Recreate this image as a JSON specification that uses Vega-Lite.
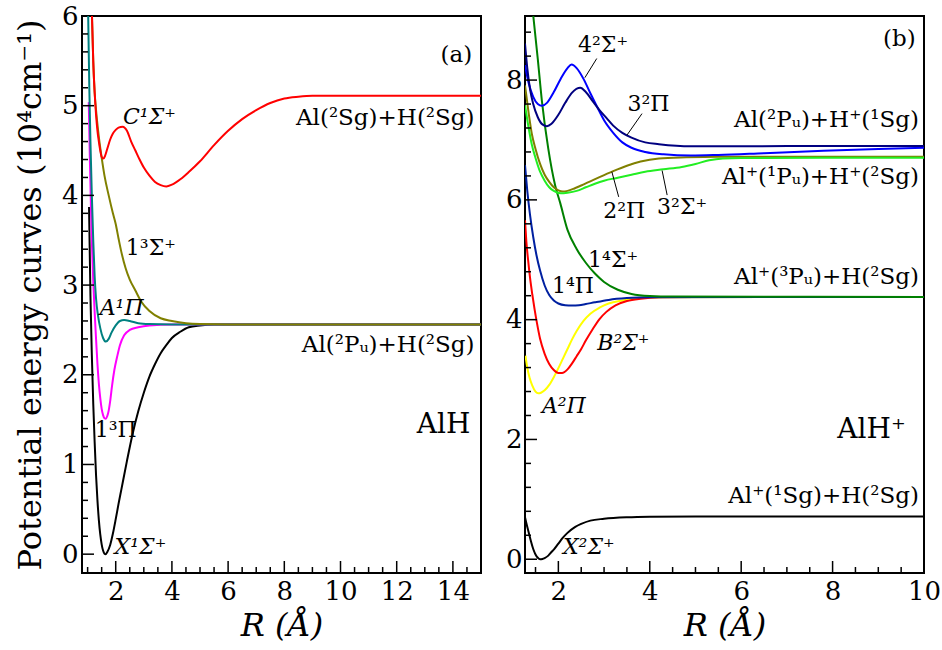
{
  "$schema": "https://vega.github.io/schema/vega-lite/v6.json",
  "background": "white",
  "padding": {"left": 13, "top": 2, "right": 0, "bottom": 0},
  "spacing": 22,
  "config": {
    "view": {"stroke": "black", "strokeWidth": 2},
    "font": "DejaVu Serif",
    "axis": {
      "grid": false,
      "ticks": false,
      "domain": false,
      "labelFont": "DejaVu Serif",
      "labelFontSize": 26,
      "labelColor": "black",
      "labelOverlap": false,
      "labelFlush": false,
      "labelBound": false,
      "titleFont": "DejaVu Serif",
      "titleFontSize": 32,
      "titleFontWeight": "normal",
      "titleColor": "black"
    },
    "text": {"font": "DejaVu Serif", "color": "black"}
  },
  "datasets": {
    "curvesA": [
      {"state":"X1S","R":1.05,"E":3.87},{"state":"X1S","R":1.1,"E":2.89},{"state":"X1S","R":1.15,"E":2.22},{"state":"X1S","R":1.2,"E":1.68},{"state":"X1S","R":1.25,"E":1.25},{"state":"X1S","R":1.3,"E":0.88},{"state":"X1S","R":1.35,"E":0.6},{"state":"X1S","R":1.4,"E":0.38},{"state":"X1S","R":1.45,"E":0.22},{"state":"X1S","R":1.5,"E":0.11},{"state":"X1S","R":1.55,"E":0.04},{"state":"X1S","R":1.6,"E":0.005},{"state":"X1S","R":1.64,"E":0.0},{"state":"X1S","R":1.7,"E":0.025},{"state":"X1S","R":1.8,"E":0.1},{"state":"X1S","R":1.9,"E":0.23},{"state":"X1S","R":2.0,"E":0.39},{"state":"X1S","R":2.1,"E":0.56},{"state":"X1S","R":2.2,"E":0.72},{"state":"X1S","R":2.4,"E":1.04},{"state":"X1S","R":2.6,"E":1.34},{"state":"X1S","R":2.8,"E":1.59},{"state":"X1S","R":3.0,"E":1.8},{"state":"X1S","R":3.2,"E":1.98},{"state":"X1S","R":3.4,"E":2.12},{"state":"X1S","R":3.6,"E":2.24},{"state":"X1S","R":3.8,"E":2.33},{"state":"X1S","R":4.0,"E":2.41},{"state":"X1S","R":4.3,"E":2.48},{"state":"X1S","R":4.6,"E":2.53},{"state":"X1S","R":5.0,"E":2.55},{"state":"X1S","R":5.5,"E":2.56},{"state":"X1S","R":6,"E":2.56},{"state":"X1S","R":8,"E":2.56},{"state":"X1S","R":10,"E":2.56},{"state":"X1S","R":12,"E":2.56},{"state":"X1S","R":15,"E":2.56},
      {"state":"13P","R":1.04,"E":5.04},{"state":"13P","R":1.08,"E":4.4},{"state":"13P","R":1.12,"E":3.85},{"state":"13P","R":1.16,"E":3.4},{"state":"13P","R":1.2,"E":3.05},{"state":"13P","R":1.25,"E":2.7},{"state":"13P","R":1.3,"E":2.4},{"state":"13P","R":1.35,"E":2.12},{"state":"13P","R":1.4,"E":1.9},{"state":"13P","R":1.45,"E":1.74},{"state":"13P","R":1.5,"E":1.62},{"state":"13P","R":1.55,"E":1.55},{"state":"13P","R":1.6,"E":1.515},{"state":"13P","R":1.65,"E":1.51},{"state":"13P","R":1.7,"E":1.54},{"state":"13P","R":1.75,"E":1.6},{"state":"13P","R":1.8,"E":1.7},{"state":"13P","R":1.87,"E":1.88},{"state":"13P","R":1.95,"E":2.05},{"state":"13P","R":2.05,"E":2.2},{"state":"13P","R":2.15,"E":2.33},{"state":"13P","R":2.3,"E":2.44},{"state":"13P","R":2.5,"E":2.5},{"state":"13P","R":2.8,"E":2.53},{"state":"13P","R":3.2,"E":2.55},{"state":"13P","R":4,"E":2.56},{"state":"13P","R":15,"E":2.56},
      {"state":"A1P","R":1.02,"E":6.0},{"state":"A1P","R":1.06,"E":5.2},{"state":"A1P","R":1.1,"E":4.6},{"state":"A1P","R":1.15,"E":4.0},{"state":"A1P","R":1.2,"E":3.5},{"state":"A1P","R":1.25,"E":3.1},{"state":"A1P","R":1.3,"E":2.85},{"state":"A1P","R":1.37,"E":2.66},{"state":"A1P","R":1.45,"E":2.52},{"state":"A1P","R":1.55,"E":2.41},{"state":"A1P","R":1.65,"E":2.37},{"state":"A1P","R":1.75,"E":2.4},{"state":"A1P","R":1.85,"E":2.47},{"state":"A1P","R":2.0,"E":2.55},{"state":"A1P","R":2.15,"E":2.6},{"state":"A1P","R":2.3,"E":2.61},{"state":"A1P","R":2.5,"E":2.6},{"state":"A1P","R":2.8,"E":2.575},{"state":"A1P","R":3.2,"E":2.565},{"state":"A1P","R":4,"E":2.56},{"state":"A1P","R":15,"E":2.56},
      {"state":"13S","R":1.155,"E":6.0},{"state":"13S","R":1.2,"E":5.5},{"state":"13S","R":1.25,"E":5.15},{"state":"13S","R":1.3,"E":4.95},{"state":"13S","R":1.4,"E":4.65},{"state":"13S","R":1.5,"E":4.42},{"state":"13S","R":1.6,"E":4.22},{"state":"13S","R":1.75,"E":4.0},{"state":"13S","R":1.9,"E":3.8},{"state":"13S","R":2.0,"E":3.68},{"state":"13S","R":2.1,"E":3.52},{"state":"13S","R":2.2,"E":3.37},{"state":"13S","R":2.35,"E":3.19},{"state":"13S","R":2.5,"E":3.06},{"state":"13S","R":2.7,"E":2.94},{"state":"13S","R":2.9,"E":2.82},{"state":"13S","R":3.2,"E":2.71},{"state":"13S","R":3.6,"E":2.63},{"state":"13S","R":4.0,"E":2.6},{"state":"13S","R":4.5,"E":2.575},{"state":"13S","R":5.0,"E":2.565},{"state":"13S","R":6,"E":2.56},{"state":"13S","R":15,"E":2.56},
      {"state":"C1S","R":1.155,"E":6.0},{"state":"C1S","R":1.2,"E":5.5},{"state":"C1S","R":1.25,"E":5.15},{"state":"C1S","R":1.3,"E":4.9},{"state":"C1S","R":1.35,"E":4.72},{"state":"C1S","R":1.4,"E":4.6},{"state":"C1S","R":1.45,"E":4.5},{"state":"C1S","R":1.5,"E":4.43},{"state":"C1S","R":1.56,"E":4.41},{"state":"C1S","R":1.62,"E":4.44},{"state":"C1S","R":1.7,"E":4.52},{"state":"C1S","R":1.8,"E":4.62},{"state":"C1S","R":1.9,"E":4.69},{"state":"C1S","R":2.0,"E":4.73},{"state":"C1S","R":2.1,"E":4.755},{"state":"C1S","R":2.25,"E":4.765},{"state":"C1S","R":2.4,"E":4.72},{"state":"C1S","R":2.55,"E":4.6},{"state":"C1S","R":2.7,"E":4.5},{"state":"C1S","R":2.85,"E":4.4},{"state":"C1S","R":3.0,"E":4.31},{"state":"C1S","R":3.2,"E":4.22},{"state":"C1S","R":3.4,"E":4.15},{"state":"C1S","R":3.6,"E":4.115},{"state":"C1S","R":3.8,"E":4.1},{"state":"C1S","R":4.0,"E":4.12},{"state":"C1S","R":4.3,"E":4.18},{"state":"C1S","R":4.6,"E":4.26},{"state":"C1S","R":5.0,"E":4.38},{"state":"C1S","R":5.5,"E":4.56},{"state":"C1S","R":6.0,"E":4.72},{"state":"C1S","R":6.5,"E":4.85},{"state":"C1S","R":7.0,"E":4.95},{"state":"C1S","R":7.5,"E":5.03},{"state":"C1S","R":8.0,"E":5.08},{"state":"C1S","R":8.5,"E":5.1},{"state":"C1S","R":9,"E":5.11},{"state":"C1S","R":10,"E":5.11},{"state":"C1S","R":15,"E":5.11}
    ],
    "curvesB": [
      {"state":"X2S","R":1.27,"E":0.7},{"state":"X2S","R":1.3,"E":0.6},{"state":"X2S","R":1.35,"E":0.45},{"state":"X2S","R":1.4,"E":0.3},{"state":"X2S","R":1.45,"E":0.17},{"state":"X2S","R":1.5,"E":0.08},{"state":"X2S","R":1.55,"E":0.025},{"state":"X2S","R":1.6,"E":0.0},{"state":"X2S","R":1.65,"E":0.005},{"state":"X2S","R":1.7,"E":0.02},{"state":"X2S","R":1.78,"E":0.06},{"state":"X2S","R":1.85,"E":0.12},{"state":"X2S","R":1.9,"E":0.16},{"state":"X2S","R":2.0,"E":0.26},{"state":"X2S","R":2.1,"E":0.36},{"state":"X2S","R":2.2,"E":0.44},{"state":"X2S","R":2.37,"E":0.54},{"state":"X2S","R":2.5,"E":0.59},{"state":"X2S","R":2.7,"E":0.645},{"state":"X2S","R":3.0,"E":0.675},{"state":"X2S","R":3.5,"E":0.7},{"state":"X2S","R":4.0,"E":0.71},{"state":"X2S","R":5,"E":0.715},{"state":"X2S","R":10,"E":0.715},
      {"state":"A2P","R":1.28,"E":3.4},{"state":"A2P","R":1.32,"E":3.2},{"state":"A2P","R":1.37,"E":3.03},{"state":"A2P","R":1.43,"E":2.9},{"state":"A2P","R":1.5,"E":2.8},{"state":"A2P","R":1.56,"E":2.77},{"state":"A2P","R":1.62,"E":2.78},{"state":"A2P","R":1.7,"E":2.82},{"state":"A2P","R":1.8,"E":2.91},{"state":"A2P","R":1.9,"E":3.04},{"state":"A2P","R":2.0,"E":3.19},{"state":"A2P","R":2.1,"E":3.35},{"state":"A2P","R":2.2,"E":3.51},{"state":"A2P","R":2.3,"E":3.67},{"state":"A2P","R":2.4,"E":3.81},{"state":"A2P","R":2.55,"E":3.98},{"state":"A2P","R":2.7,"E":4.1},{"state":"A2P","R":2.9,"E":4.2},{"state":"A2P","R":3.1,"E":4.27},{"state":"A2P","R":3.4,"E":4.32},{"state":"A2P","R":3.8,"E":4.36},{"state":"A2P","R":4.3,"E":4.375},{"state":"A2P","R":10,"E":4.38},
      {"state":"B2S","R":1.27,"E":5.66},{"state":"B2S","R":1.3,"E":5.3},{"state":"B2S","R":1.34,"E":4.98},{"state":"B2S","R":1.38,"E":4.7},{"state":"B2S","R":1.43,"E":4.42},{"state":"B2S","R":1.48,"E":4.17},{"state":"B2S","R":1.53,"E":3.95},{"state":"B2S","R":1.6,"E":3.68},{"state":"B2S","R":1.7,"E":3.43},{"state":"B2S","R":1.8,"E":3.26},{"state":"B2S","R":1.9,"E":3.16},{"state":"B2S","R":2.0,"E":3.11},{"state":"B2S","R":2.08,"E":3.11},{"state":"B2S","R":2.2,"E":3.17},{"state":"B2S","R":2.3,"E":3.27},{"state":"B2S","R":2.4,"E":3.39},{"state":"B2S","R":2.5,"E":3.51},{"state":"B2S","R":2.6,"E":3.65},{"state":"B2S","R":2.75,"E":3.84},{"state":"B2S","R":2.9,"E":4.01},{"state":"B2S","R":3.05,"E":4.13},{"state":"B2S","R":3.25,"E":4.24},{"state":"B2S","R":3.5,"E":4.31},{"state":"B2S","R":3.8,"E":4.35},{"state":"B2S","R":4.2,"E":4.375},{"state":"B2S","R":5,"E":4.38},{"state":"B2S","R":10,"E":4.38},
      {"state":"14P","R":1.27,"E":6.58},{"state":"14P","R":1.32,"E":6.15},{"state":"14P","R":1.38,"E":5.75},{"state":"14P","R":1.45,"E":5.38},{"state":"14P","R":1.52,"E":5.08},{"state":"14P","R":1.6,"E":4.82},{"state":"14P","R":1.7,"E":4.57},{"state":"14P","R":1.8,"E":4.41},{"state":"14P","R":1.9,"E":4.32},{"state":"14P","R":2.0,"E":4.27},{"state":"14P","R":2.15,"E":4.24},{"state":"14P","R":2.3,"E":4.235},{"state":"14P","R":2.45,"E":4.24},{"state":"14P","R":2.6,"E":4.26},{"state":"14P","R":2.8,"E":4.29},{"state":"14P","R":3.1,"E":4.33},{"state":"14P","R":3.5,"E":4.36},{"state":"14P","R":4.0,"E":4.375},{"state":"14P","R":10,"E":4.38},
      {"state":"14S","R":1.45,"E":9.08},{"state":"14S","R":1.55,"E":8.35},{"state":"14S","R":1.64,"E":7.65},{"state":"14S","R":1.78,"E":6.85},{"state":"14S","R":1.93,"E":6.24},{"state":"14S","R":2.04,"E":5.95},{"state":"14S","R":2.2,"E":5.5},{"state":"14S","R":2.4,"E":5.18},{"state":"14S","R":2.6,"E":4.95},{"state":"14S","R":2.8,"E":4.77},{"state":"14S","R":3.0,"E":4.63},{"state":"14S","R":3.3,"E":4.5},{"state":"14S","R":3.6,"E":4.43},{"state":"14S","R":4.0,"E":4.395},{"state":"14S","R":4.5,"E":4.385},{"state":"14S","R":10,"E":4.38},
      {"state":"22P","R":1.27,"E":7.91},{"state":"22P","R":1.35,"E":7.45},{"state":"22P","R":1.42,"E":7.1},{"state":"22P","R":1.5,"E":6.85},{"state":"22P","R":1.6,"E":6.6},{"state":"22P","R":1.7,"E":6.42},{"state":"22P","R":1.8,"E":6.3},{"state":"22P","R":1.9,"E":6.21},{"state":"22P","R":2.0,"E":6.16},{"state":"22P","R":2.1,"E":6.14},{"state":"22P","R":2.2,"E":6.15},{"state":"22P","R":2.35,"E":6.19},{"state":"22P","R":2.5,"E":6.24},{"state":"22P","R":2.7,"E":6.31},{"state":"22P","R":2.9,"E":6.38},{"state":"22P","R":3.2,"E":6.48},{"state":"22P","R":3.5,"E":6.57},{"state":"22P","R":3.8,"E":6.64},{"state":"22P","R":4.2,"E":6.69},{"state":"22P","R":4.8,"E":6.71},{"state":"22P","R":5.5,"E":6.72},{"state":"22P","R":10,"E":6.72},
      {"state":"32S","R":1.27,"E":7.58},{"state":"32S","R":1.35,"E":7.2},{"state":"32S","R":1.42,"E":6.92},{"state":"32S","R":1.5,"E":6.7},{"state":"32S","R":1.6,"E":6.47},{"state":"32S","R":1.7,"E":6.32},{"state":"32S","R":1.8,"E":6.21},{"state":"32S","R":1.9,"E":6.15},{"state":"32S","R":2.05,"E":6.11},{"state":"32S","R":2.2,"E":6.12},{"state":"32S","R":2.4,"E":6.15},{"state":"32S","R":2.6,"E":6.21},{"state":"32S","R":2.8,"E":6.27},{"state":"32S","R":3.0,"E":6.32},{"state":"32S","R":3.3,"E":6.37},{"state":"32S","R":3.6,"E":6.42},{"state":"32S","R":3.9,"E":6.47},{"state":"32S","R":4.3,"E":6.51},{"state":"32S","R":4.7,"E":6.55},{"state":"32S","R":5.0,"E":6.6},{"state":"32S","R":5.3,"E":6.66},{"state":"32S","R":5.6,"E":6.69},{"state":"32S","R":6,"E":6.7},{"state":"32S","R":10,"E":6.705},
      {"state":"42S","R":1.27,"E":8.25},{"state":"42S","R":1.35,"E":7.95},{"state":"42S","R":1.45,"E":7.72},{"state":"42S","R":1.55,"E":7.6},{"state":"42S","R":1.64,"E":7.57},{"state":"42S","R":1.75,"E":7.62},{"state":"42S","R":1.9,"E":7.8},{"state":"42S","R":2.05,"E":8.02},{"state":"42S","R":2.2,"E":8.2},{"state":"42S","R":2.29,"E":8.26},{"state":"42S","R":2.4,"E":8.2},{"state":"42S","R":2.55,"E":8.02},{"state":"42S","R":2.7,"E":7.78},{"state":"42S","R":2.85,"E":7.55},{"state":"42S","R":3.0,"E":7.33},{"state":"42S","R":3.2,"E":7.12},{"state":"42S","R":3.4,"E":6.96},{"state":"42S","R":3.6,"E":6.87},{"state":"42S","R":3.9,"E":6.8},{"state":"42S","R":4.3,"E":6.76},{"state":"42S","R":4.9,"E":6.74},{"state":"42S","R":5.5,"E":6.75},{"state":"42S","R":6.5,"E":6.78},{"state":"42S","R":7.8,"E":6.82},{"state":"42S","R":9,"E":6.85},{"state":"42S","R":10,"E":6.87},
      {"state":"32P","R":1.27,"E":8.61},{"state":"32P","R":1.32,"E":8.2},{"state":"32P","R":1.38,"E":7.85},{"state":"32P","R":1.45,"E":7.6},{"state":"32P","R":1.55,"E":7.38},{"state":"32P","R":1.65,"E":7.26},{"state":"32P","R":1.75,"E":7.23},{"state":"32P","R":1.85,"E":7.27},{"state":"32P","R":2.0,"E":7.42},{"state":"32P","R":2.15,"E":7.62},{"state":"32P","R":2.3,"E":7.79},{"state":"32P","R":2.48,"E":7.87},{"state":"32P","R":2.6,"E":7.8},{"state":"32P","R":2.75,"E":7.65},{"state":"32P","R":2.9,"E":7.5},{"state":"32P","R":3.06,"E":7.36},{"state":"32P","R":3.2,"E":7.24},{"state":"32P","R":3.4,"E":7.12},{"state":"32P","R":3.6,"E":7.04},{"state":"32P","R":3.9,"E":6.96},{"state":"32P","R":4.2,"E":6.93},{"state":"32P","R":4.9,"E":6.895},{"state":"32P","R":6,"E":6.895},{"state":"32P","R":8,"E":6.9},{"state":"32P","R":10,"E":6.9}
    ],
    "tAxMaj": [{"v":2},{"v":4},{"v":6},{"v":8},{"v":10},{"v":12},{"v":14}],
    "tAxMin": [{"v":1},{"v":1.5},{"v":2.5},{"v":3},{"v":3.5},{"v":4.5},{"v":5},{"v":5.5},{"v":6.5},{"v":7},{"v":7.5},{"v":8.5},{"v":9},{"v":9.5},{"v":10.5},{"v":11},{"v":11.5},{"v":12.5},{"v":13},{"v":13.5},{"v":14.5}],
    "tAyMaj": [{"v":0},{"v":1},{"v":2},{"v":3},{"v":4},{"v":5}],
    "tAyMin": [{"v":0.2},{"v":0.4},{"v":0.6},{"v":0.8},{"v":1.2},{"v":1.4},{"v":1.6},{"v":1.8},{"v":2.2},{"v":2.4},{"v":2.6},{"v":2.8},{"v":3.2},{"v":3.4},{"v":3.6},{"v":3.8},{"v":4.2},{"v":4.4},{"v":4.6},{"v":4.8},{"v":5.2},{"v":5.4},{"v":5.6},{"v":5.8}],
    "tBxMaj": [{"v":2},{"v":4},{"v":6},{"v":8}],
    "tBxMin": [{"v":1.5},{"v":2.5},{"v":3},{"v":3.5},{"v":4.5},{"v":5},{"v":5.5},{"v":6.5},{"v":7},{"v":7.5},{"v":8.5},{"v":9},{"v":9.5}],
    "tByMaj": [{"v":0},{"v":2},{"v":4},{"v":6},{"v":8}],
    "tByMin": [{"v":0.4},{"v":0.8},{"v":1.2},{"v":1.6},{"v":2.4},{"v":2.8},{"v":3.2},{"v":3.6},{"v":4.4},{"v":4.8},{"v":5.2},{"v":5.6},{"v":6.4},{"v":6.8},{"v":7.2},{"v":7.6},{"v":8.4},{"v":8.8}],
    "labA_it": [
      {"text":"C¹Σ⁺","x":2.26,"y":4.87},
      {"text":"A¹Π","x":1.43,"y":2.74},
      {"text":"X¹Σ⁺","x":1.96,"y":0.08}
    ],
    "labA": [
      {"text":"1³Σ⁺","x":2.36,"y":3.41},
      {"text":"1³Π","x":1.25,"y":1.38}
    ],
    "labA_r": [
      {"text":"(a)","x":14.69,"y":5.57},
      {"text":"Al(²Sg)+H(²Sg)","x":14.77,"y":4.86},
      {"text":"Al(²Pᵤ)+H(²Sg)","x":14.77,"y":2.33}
    ],
    "tagA": [
      {"text":"AlH","x":14.62,"y":1.44}
    ],
    "labB_it": [
      {"text":"A²Π","x":1.64,"y":2.55},
      {"text":"B²Σ⁺","x":2.85,"y":3.61},
      {"text":"X²Σ⁺","x":2.1,"y":0.2}
    ],
    "labB": [
      {"text":"4²Σ⁺","x":2.43,"y":8.58},
      {"text":"3²Π","x":3.51,"y":7.6},
      {"text":"2²Π","x":2.98,"y":5.81},
      {"text":"3²Σ⁺","x":4.16,"y":5.88},
      {"text":"1⁴Σ⁺","x":2.65,"y":5.0},
      {"text":"1⁴Π","x":1.86,"y":4.57}
    ],
    "labB_r": [
      {"text":"(b)","x":9.82,"y":8.68},
      {"text":"Al(²Pᵤ)+H⁺(¹Sg)","x":9.89,"y":7.33},
      {"text":"Al⁺(¹Pᵤ)+H⁺(²Sg)","x":9.89,"y":6.39},
      {"text":"Al⁺(³Pᵤ)+H(²Sg)","x":9.89,"y":4.71},
      {"text":"Al⁺(¹Sg)+H(²Sg)","x":9.89,"y":1.05}
    ],
    "tagB": [
      {"text":"AlH⁺","x":9.6,"y":2.15}
    ],
    "leadB": [
      {"x":2.84,"y":8.36,"x2":2.58,"y2":8.04},
      {"x":3.83,"y":7.44,"x2":3.5,"y2":7.08},
      {"x":3.32,"y":6.05,"x2":3.17,"y2":6.47},
      {"x":4.38,"y":6.08,"x2":4.27,"y2":6.49}
    ]
  },
  "hconcat": [
    {
      "width": 399,
      "height": 557,
      "layer": [
        {
          "data": {"name": "curvesA"},
          "mark": {"type": "line", "strokeWidth": 2, "interpolate": "monotone", "clip": true},
          "encoding": {
            "x": {"field": "R", "type": "quantitative",
              "scale": {"domain": [0.8, 15], "nice": false, "zero": false},
              "axis": {
                "orient": "bottom", "title": "R (Å)", "titleFontStyle": "italic", "titlePadding": 6,
                "values": [2,4,6,8,10,12,14], "format": "d", "labelPadding": 5
              }
            },
            "y": {"field": "E", "type": "quantitative",
              "scale": {"domain": [-0.21, 6], "nice": false, "zero": false},
              "axis": {
                "orient": "left", "title": "Potential energy curves (10⁴cm⁻¹)", "titlePadding": 14,
                "values": [0,1,2,3,4,5,6], "format": "d", "labelPadding": 4
              }
            },
            "color": {"field": "state", "type": "nominal", "legend": null,
              "scale": {"domain": ["X1S","13P","A1P","13S","C1S"], "range": ["#000000","#ff00ff","#008080","#808000","#ff0000"]}}
          }
        },
        {
          "data": {"name": "tAxMaj"},
          "mark": {"type": "rule", "color": "black", "strokeWidth": 1.5},
          "encoding": {"x": {"field": "v", "type": "quantitative", "axis": null}, "y": {"datum": -0.21, "type": "quantitative", "axis": null}, "y2": {"datum": -0.076}}
        },
        {
          "data": {"name": "tAxMin"},
          "mark": {"type": "rule", "color": "black", "strokeWidth": 1.5},
          "encoding": {"x": {"field": "v", "type": "quantitative", "axis": null}, "y": {"datum": -0.21, "type": "quantitative", "axis": null}, "y2": {"datum": -0.143}}
        },
        {
          "data": {"name": "tAyMaj"},
          "mark": {"type": "rule", "color": "black", "strokeWidth": 1.5},
          "encoding": {"y": {"field": "v", "type": "quantitative", "axis": null}, "x": {"datum": 0.8, "type": "quantitative", "axis": null}, "x2": {"datum": 1.227}}
        },
        {
          "data": {"name": "tAyMin"},
          "mark": {"type": "rule", "color": "black", "strokeWidth": 1.5},
          "encoding": {"y": {"field": "v", "type": "quantitative", "axis": null}, "x": {"datum": 0.8, "type": "quantitative", "axis": null}, "x2": {"datum": 1.0135}}
        },
        {
          "data": {"name": "labA_r"},
          "mark": {"type": "text", "align": "right", "baseline": "middle", "fontSize": 23},
          "encoding": {"x": {"field": "x", "type": "quantitative", "axis": null}, "y": {"field": "y", "type": "quantitative", "axis": null}, "text": {"field": "text"}}
        },
        {
          "data": {"name": "labA_it"},
          "mark": {"type": "text", "align": "left", "baseline": "middle", "fontSize": 22, "fontStyle": "italic"},
          "encoding": {"x": {"field": "x", "type": "quantitative", "axis": null}, "y": {"field": "y", "type": "quantitative", "axis": null}, "text": {"field": "text"}}
        },
        {
          "data": {"name": "labA"},
          "mark": {"type": "text", "align": "left", "baseline": "middle", "fontSize": 22},
          "encoding": {"x": {"field": "x", "type": "quantitative", "axis": null}, "y": {"field": "y", "type": "quantitative", "axis": null}, "text": {"field": "text"}}
        },
        {
          "data": {"name": "tagA"},
          "mark": {"type": "text", "align": "right", "baseline": "middle", "fontSize": 28},
          "encoding": {"x": {"field": "x", "type": "quantitative", "axis": null}, "y": {"field": "y", "type": "quantitative", "axis": null}, "text": {"field": "text"}}
        }
      ],
      "resolve": {"axis": {"x": "independent", "y": "independent"}}
    },
    {
      "width": 399,
      "height": 557,
      "layer": [
        {
          "data": {"name": "curvesB"},
          "mark": {"type": "line", "strokeWidth": 2, "interpolate": "monotone", "clip": true},
          "encoding": {
            "x": {"field": "R", "type": "quantitative",
              "scale": {"domain": [1.27, 10], "nice": false, "zero": false},
              "axis": {
                "orient": "bottom", "title": "R (Å)", "titleFontStyle": "italic", "titlePadding": 6,
                "values": [2,4,6,8,10], "format": "d", "labelPadding": 5
              }
            },
            "y": {"field": "E", "type": "quantitative",
              "scale": {"domain": [-0.23, 9.07], "nice": false, "zero": false},
              "axis": {
                "orient": "left", "title": null,
                "values": [0,2,4,6,8], "format": "d", "labelPadding": 3
              }
            },
            "color": {"field": "state", "type": "nominal", "legend": null,
              "scale": {"domain": ["X2S","A2P","B2S","14P","14S","22P","32S","42S","32P"], "range": ["#000000","#ffff00","#ff0000","#0020a0","#008000","#808000","#22ee22","#0000ff","#000080"]}}
          }
        },
        {
          "data": {"name": "tBxMaj"},
          "mark": {"type": "rule", "color": "black", "strokeWidth": 1.5},
          "encoding": {"x": {"field": "v", "type": "quantitative", "axis": null}, "y": {"datum": -0.23, "type": "quantitative", "axis": null}, "y2": {"datum": -0.03}}
        },
        {
          "data": {"name": "tBxMin"},
          "mark": {"type": "rule", "color": "black", "strokeWidth": 1.5},
          "encoding": {"x": {"field": "v", "type": "quantitative", "axis": null}, "y": {"datum": -0.23, "type": "quantitative", "axis": null}, "y2": {"datum": -0.13}}
        },
        {
          "data": {"name": "tByMaj"},
          "mark": {"type": "rule", "color": "black", "strokeWidth": 1.5},
          "encoding": {"y": {"field": "v", "type": "quantitative", "axis": null}, "x": {"datum": 1.27, "type": "quantitative", "axis": null}, "x2": {"datum": 1.533}}
        },
        {
          "data": {"name": "tByMin"},
          "mark": {"type": "rule", "color": "black", "strokeWidth": 1.5},
          "encoding": {"y": {"field": "v", "type": "quantitative", "axis": null}, "x": {"datum": 1.27, "type": "quantitative", "axis": null}, "x2": {"datum": 1.401}}
        },
        {
          "data": {"name": "leadB"},
          "mark": {"type": "rule", "color": "black", "strokeWidth": 1},
          "encoding": {"x": {"field": "x", "type": "quantitative", "axis": null}, "y": {"field": "y", "type": "quantitative", "axis": null}, "x2": {"field": "x2"}, "y2": {"field": "y2"}}
        },
        {
          "data": {"name": "labB_r"},
          "mark": {"type": "text", "align": "right", "baseline": "middle", "fontSize": 23},
          "encoding": {"x": {"field": "x", "type": "quantitative", "axis": null}, "y": {"field": "y", "type": "quantitative", "axis": null}, "text": {"field": "text"}}
        },
        {
          "data": {"name": "labB_it"},
          "mark": {"type": "text", "align": "left", "baseline": "middle", "fontSize": 22, "fontStyle": "italic"},
          "encoding": {"x": {"field": "x", "type": "quantitative", "axis": null}, "y": {"field": "y", "type": "quantitative", "axis": null}, "text": {"field": "text"}}
        },
        {
          "data": {"name": "labB"},
          "mark": {"type": "text", "align": "left", "baseline": "middle", "fontSize": 22},
          "encoding": {"x": {"field": "x", "type": "quantitative", "axis": null}, "y": {"field": "y", "type": "quantitative", "axis": null}, "text": {"field": "text"}}
        },
        {
          "data": {"name": "tagB"},
          "mark": {"type": "text", "align": "right", "baseline": "middle", "fontSize": 28},
          "encoding": {"x": {"field": "x", "type": "quantitative", "axis": null}, "y": {"field": "y", "type": "quantitative", "axis": null}, "text": {"field": "text"}}
        }
      ],
      "resolve": {"axis": {"x": "independent", "y": "independent"}}
    }
  ],
  "resolve": {"scale": {"x": "independent", "y": "independent", "color": "independent"}}
}
